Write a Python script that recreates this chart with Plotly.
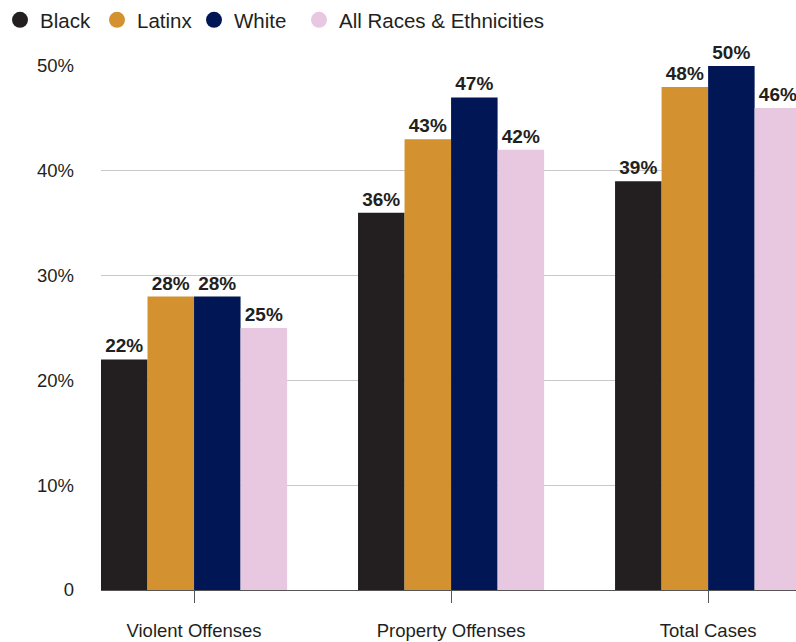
import plotly.graph_objects as go

categories = ["Violent Offenses", "Property Offenses", "Total Cases"]
series_names = ["Black", "Latinx", "White", "All Races & Ethnicities"]
black = [22, 36, 39]
latinx = [28, 43, 48]
white = [28, 47, 50]
all_races = [25, 42, 46]
series_values = [black, latinx, white, all_races]
colors = ["#231f20", "#d39130", "#001655", "#e8c8e0"]
y_tick_vals = [0, 10, 20, 30, 40, 50]
y_tick_text = ["0", "10%", "20%", "30%", "40%", "50%"]

# layout geometry (pixels)
W, H = 796, 642
ML, MR, MT, MB = 101, 0, 66, 52
PW = W - ML - MR
PH = H - MT - MB
legend_px = [0, 97, 194, 299]

xpos = list(range(len(categories)))
fig = go.Figure()
legend_names = ["legend", "legend2", "legend3", "legend4"]
for i, (name, vals, col) in enumerate(zip(series_names, series_values, colors)):
    fig.add_trace(go.Bar(
        x=xpos, y=vals, name=name, marker=dict(color=col, line=dict(width=0)),
        text=[f"<b>{v}%</b>" for v in vals], textposition="outside",
        textfont=dict(family="Liberation Sans", size=19, color="#231f20"),
        cliponaxis=False, showlegend=False, hoverinfo="skip",
    ))
    fig.add_trace(go.Scatter(
        x=[None], y=[None], mode="markers", name=name, legend=legend_names[i],
        marker=dict(color=col, size=18, symbol="circle"),
    ))

layout_legends = {}
for i, ln in enumerate(legend_names):
    layout_legends[ln] = dict(
        x=(legend_px[i] - ML) / PW, xanchor="left",
        y=(PH + MT - 20) / PH, yanchor="middle",
        orientation="h", font=dict(size=20.5, color="#231f20"),
        bgcolor="rgba(0,0,0,0)", itemwidth=30,
    )

fig.update_layout(
    width=W, height=H,
    margin=dict(l=ML, r=MR, t=MT, b=MB, autoexpand=False),
    paper_bgcolor="white", plot_bgcolor="white",
    barmode="group", bargap=0.276, bargroupgap=0,
    font=dict(family="Liberation Sans", size=18, color="#231f20"),
    xaxis=dict(range=[-0.362, 2.342], tickvals=xpos, ticktext=categories,
               ticks="outside", ticklen=12, tickcolor="#555555", tickwidth=1,
               showline=True, linecolor="#555555", linewidth=1,
               showgrid=False, zeroline=False, ticklabelstandoff=12,
               tickfont=dict(size=18.5)),
    yaxis=dict(range=[0, 50], tickvals=y_tick_vals, ticktext=y_tick_text,
               showgrid=True, gridcolor="#c8c8c8", gridwidth=1,
               zeroline=False, ticks="", ticklabelstandoff=26,
               tickfont=dict(size=18.5)),
    **layout_legends,
)
fig.write_html("out.html")
